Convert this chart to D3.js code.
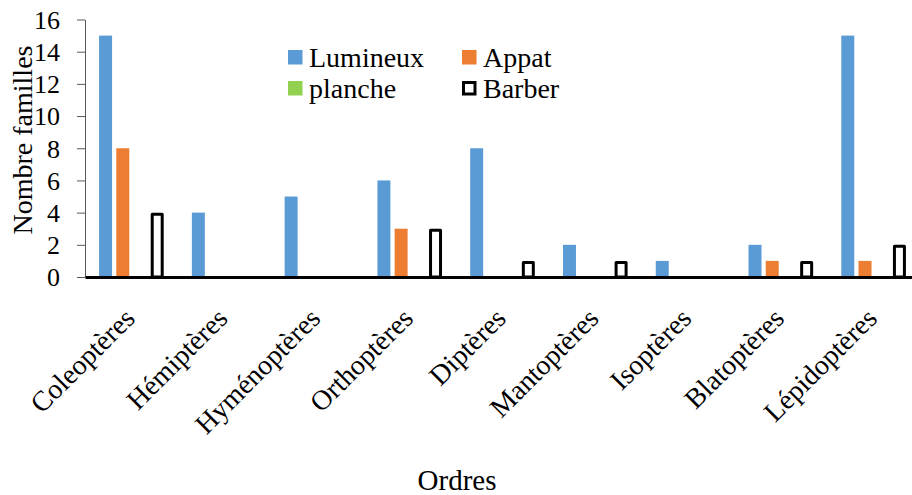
<!DOCTYPE html>
<html>
<head>
<meta charset="utf-8">
<script src="https://cdn.jsdelivr.net/npm/d3@7"></script>
<style>
  html, body { margin: 0; padding: 0; background: #fff; }
</style>
</head>
<body>
<svg id="chart" width="912" height="495" font-family="'Liberation Serif', 'Times New Roman', serif"></svg>
<script>
// Orders of insects and number of families caught per trap type
const ordres = ["Coleoptères", "Hémiptères", "Hyménoptères", "Orthoptères", "Diptères",
                "Mantoptères", "Isoptères", "Blatoptères", "Lépidoptères"];
const seriesNames = ["Lumineux", "Appat", "planche", "Barber"];
const lumineux = [15, 4, 5, 6, 8, 2, 1, 2, 15];
const appat    = [8, 0, 0, 3, 0, 0, 0, 1, 1];
const planche  = [0, 0, 0, 0, 0, 0, 0, 0, 0];
const barber   = [4, 0, 0, 3, 1, 1, 0, 1, 2];
const yTicks   = [0, 2, 4, 6, 8, 10, 12, 14, 16];

const seriesValues = [lumineux, appat, planche, barber];
const fills   = ["#5B9BD5", "#ED7D31", "#92D050", "#FFFFFF"];
const strokes = [null, null, null, "#000000"];
const SERIF = "'Liberation Serif', 'Times New Roman', serif";

const svg = d3.select("#chart");
const plotLeft = 85, plotRight = 920, plotTop = 19.5, plotBottom = 277;

const x0 = d3.scaleBand().domain(ordres).range([plotLeft, plotRight]).padding(0);
const groupW = x0.bandwidth() * 0.742;
const x1 = d3.scaleBand().domain(seriesNames)
  .range([(x0.bandwidth() - groupW) / 2, (x0.bandwidth() + groupW) / 2])
  .paddingInner(0.245).paddingOuter(0.1225);
const y = d3.scaleLinear().domain([0, 16]).range([plotBottom, plotTop]);

// Bars
const groups = svg.append("g").selectAll("g")
  .data(ordres).join("g")
  .attr("transform", d => `translate(${x0(d)},0)`);

groups.each(function(ord, i) {
  const g = d3.select(this);
  seriesNames.forEach((s, k) => {
    const v = seriesValues[k][i];
    if (v <= 0) return;
    const outlined = strokes[k] !== null;
    const inset = outlined ? 1.5 : 0;
    g.append("rect")
      .attr("x", x1(s) + inset)
      .attr("y", y(v) + inset)
      .attr("width", x1.bandwidth() - 2 * inset)
      .attr("height", y(0) - y(v) - inset)
      .attr("fill", fills[k])
      .attr("stroke", outlined ? strokes[k] : "none")
      .attr("stroke-width", outlined ? 3 : 0)
      .attr("stroke-linejoin", "round");
  });
});

// Y axis
const yAxis = svg.append("g")
  .attr("transform", `translate(${plotLeft},0)`)
  .call(d3.axisLeft(y).tickValues(yTicks).tickSize(8).tickPadding(17).tickSizeOuter(0))
  .attr("font-family", SERIF)
  .attr("font-size", 26);
yAxis.select(".domain").attr("stroke", "#595959").attr("stroke-width", 1);
yAxis.selectAll(".tick line").attr("stroke", "#595959");
yAxis.selectAll(".tick text").attr("fill", "#000").attr("dy", "0.34em");

// X axis baseline and rotated category labels
const xAxis = svg.append("g")
  .attr("transform", `translate(0,${plotBottom})`)
  .call(d3.axisBottom(x0).tickSize(0).tickPadding(0).tickSizeOuter(0))
  .attr("font-family", SERIF)
  .attr("font-size", 28);
xAxis.select(".domain").attr("stroke", "#000").attr("stroke-width", 3);
xAxis.selectAll(".tick text")
  .attr("fill", "#000")
  .attr("text-anchor", "end")
  .attr("dy", 0)
  .attr("y", 0)
  .attr("transform", "translate(5,43) rotate(-45)");

// Axis titles
svg.append("text")
  .attr("transform", `translate(32,140) rotate(-90)`)
  .attr("text-anchor", "middle")
  .attr("font-size", 28)
  .attr("fill", "#000")
  .text("Nombre familles");

svg.append("text")
  .attr("x", 457).attr("y", 490)
  .attr("text-anchor", "middle")
  .attr("font-size", 29)
  .attr("fill", "#000")
  .text("Ordres");

// Legend
const legendItems = [
  { name: "Lumineux", k: 0, x: 288, y: 50 },
  { name: "Appat",    k: 1, x: 462, y: 50 },
  { name: "planche",  k: 2, x: 288, y: 81 },
  { name: "Barber",   k: 3, x: 462, y: 81 }
];
const legend = svg.append("g");
legendItems.forEach(it => {
  const outlined = strokes[it.k] !== null;
  legend.append("rect")
    .attr("x", it.x + (outlined ? 1.5 : 0))
    .attr("y", it.y + (outlined ? 1.5 : 0))
    .attr("width", outlined ? 11.5 : 14.5)
    .attr("height", outlined ? 11.5 : 14.5)
    .attr("fill", fills[it.k])
    .attr("stroke", outlined ? strokes[it.k] : "none")
    .attr("stroke-width", outlined ? 3 : 0);
  legend.append("text")
    .attr("x", it.x + 21)
    .attr("y", it.y + 17)
    .attr("font-size", 28)
    .attr("fill", "#000")
    .text(it.name);
});
</script>
</body>
</html>
